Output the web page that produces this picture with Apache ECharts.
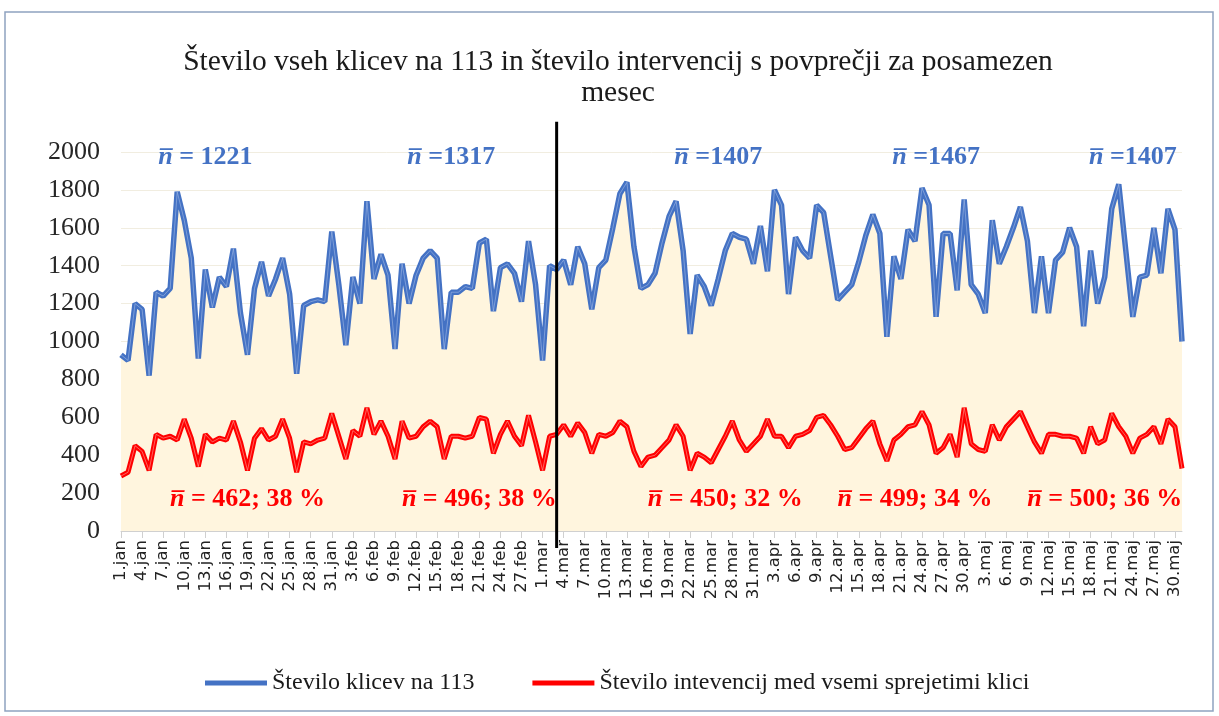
<!DOCTYPE html>
<html>
<head>
<meta charset="utf-8">
<script src="https://cdn.jsdelivr.net/npm/echarts@6/dist/echarts.min.js"></script>
<style>
  html, body { margin: 0; padding: 0; background: #fff; }
  #chart { width: 1219px; height: 716px; }
</style>
</head>
<body>
<div id="chart"></div>
<script>
// months of 2020 (leap year), daily values from 1.jan to 31.maj
var months = ['jan', 'feb', 'mar', 'apr', 'maj'];
var monthDays = [31, 29, 31, 30, 31];

// Število klicev na 113 (daily)
var calls = [
  930, 900, 1200, 1170, 820, 1260, 1240, 1280, 1790, 1640, 1440, 910, 1380, 1180, 1340, 1290,
  1490, 1150, 930, 1280, 1420, 1240, 1330, 1440, 1250, 830, 1190, 1210, 1220, 1210, 1580,
  1300, 980, 1340, 1200, 1740, 1330, 1460, 1350, 960, 1410, 1200, 1350, 1440, 1480, 1440,
  960, 1260, 1260, 1290, 1280, 1520, 1540, 1160, 1390, 1410, 1360, 1210, 1530, 1300,
  900, 1400, 1380, 1430, 1300, 1500, 1410, 1170, 1390, 1430, 1600, 1780, 1840, 1500, 1280,
  1300, 1360, 1520, 1660, 1740, 1480, 1040, 1350, 1290, 1190, 1330, 1480, 1570, 1550, 1540, 1410,
  1610, 1370, 1800, 1720, 1250, 1550, 1480, 1440, 1720, 1680, 1450, 1220, 1260, 1300, 1420,
  1560, 1670, 1570, 1025, 1450, 1330, 1590, 1530, 1810, 1720, 1130, 1570, 1570, 1270, 1750,
  1300, 1250, 1150, 1640, 1410, 1500, 1600, 1710, 1530, 1150, 1450, 1150, 1430, 1470, 1600, 1500,
  1080, 1480, 1200, 1340, 1700, 1830, 1480, 1130, 1340, 1350, 1600, 1360, 1700, 1590, 1000
];

// Število intervencij med vsemi sprejetimi klici (daily)
var interventions = [
  290, 310, 450, 420, 320, 510, 490, 500, 480, 590, 490, 340, 510, 470, 490, 480,
  580, 470, 320, 490, 540, 480, 500, 590, 490, 310, 470, 460, 480, 490, 620,
  500, 380, 530, 500, 650, 510, 580, 500, 380, 580, 490, 500, 550, 580, 550,
  380, 500, 500, 490, 500, 600, 590, 410, 510, 580, 500, 450, 610, 470,
  320, 500, 510, 560, 500, 570, 520, 410, 510, 500, 520, 580, 550, 420, 340,
  390, 400, 440, 480, 560, 500, 320, 410, 390, 360, 430, 500, 580, 480, 420, 460,
  500, 590, 500, 500, 440, 500, 510, 530, 600, 610, 560, 500, 430, 440, 490,
  540, 580, 460, 370, 480, 510, 550, 560, 630, 560, 410, 440, 510, 390, 650,
  460, 430, 420, 560, 480, 550, 590, 630, 550, 470, 410, 510, 510, 500, 500, 490,
  410, 550, 460, 480, 620, 550, 500, 410, 490, 510, 550, 460, 590, 550, 330
];

// monthly means written on the chart
var callMeans = [
  { day: '13.jan', text: ' = 1221' },
  { day: '17.feb', text: ' =1317' },
  { day: '26.mar', text: ' =1407' },
  { day: '26.apr', text: ' =1467' },
  { day: '24.maj', text: ' =1407' }
];
var interventionMeans = [
  { day: '19.jan', text: ' = 462; 38 %' },
  { day: '21.feb', text: ' = 496; 38 %' },
  { day: '27.mar', text: ' = 450; 32 %' },
  { day: '23.apr', text: ' = 499; 34 %' },
  { day: '20.maj', text: ' = 500; 36 %' }
];
var splitDay = '3.mar';

var days = [];
months.forEach(function (m, k) {
  for (var d = 1; d <= monthDays[k]; d++) days.push(d + '.' + m);
});

var serif = '"Liberation Serif", "DejaVu Serif", serif';
var blue = '#4472C4';
var red = '#FF0000';

function meanPoints (list, value) {
  return list.map(function (m) {
    return {
      coord: [m.day, value],
      label: { formatter: '{n|n\u0305}{t|' + m.text + '}' }
    };
  });
}

var chart = echarts.init(document.getElementById('chart'));
chart.setOption({
  animation: false,
  title: {
    text: 'Število vseh klicev na 113 in število intervencij s povprečji za posamezen\nmesec',
    left: 613,
    textAlign: 'center',
    top: 42,
    textStyle: { fontFamily: serif, fontSize: 29.5, fontWeight: 'normal', color: '#1a1a1a', lineHeight: 31 }
  },
  legend: {
    bottom: 16,
    left: 200,
    icon: 'rect',
    itemWidth: 62,
    itemHeight: 5,
    itemGap: 58,
    data: ['Število klicev na 113', 'Število intevencij med vsemi sprejetimi klici'],
    textStyle: { fontFamily: serif, fontSize: 24, color: '#1a1a1a' }
  },
  grid: { left: 121, right: 37, top: 152, bottom: 185 },
  xAxis: {
    type: 'category',
    data: days,
    boundaryGap: false,
    axisLine: { lineStyle: { color: '#d0d0d0' } },
    axisTick: { interval: 2, length: 7, lineStyle: { color: '#d0d0d0' } },
    axisLabel: {
      interval: 2, rotate: 90, margin: 9,
      fontFamily: '"DejaVu Sans", sans-serif', fontSize: 16.5, color: '#222'
    },
    splitLine: { show: false }
  },
  yAxis: {
    type: 'value',
    min: 0, max: 2000, interval: 200,
    axisLabel: {
      margin: 21, fontFamily: serif, fontSize: 26, color: '#262626',
      formatter: function (v) { return String(v); }
    },
    axisLine: { show: false },
    axisTick: { show: false },
    splitLine: { lineStyle: { color: '#f1ede0' } }
  },
  series: [
    {
      name: 'Število klicev na 113',
      type: 'line',
      data: calls,
      symbol: 'none',
      color: blue,
      lineStyle: { width: 5.5, color: blue },
      areaStyle: { color: '#FFF5DE', opacity: 1 },
      z: 2,
      markPoint: {
        symbol: 'circle', symbolSize: 0,
        label: {
          show: true, position: 'inside',
          rich: {
            n: { fontFamily: serif, fontSize: 26, fontWeight: 'bold', fontStyle: 'italic', color: blue },
            t: { fontFamily: serif, fontSize: 26, fontWeight: 'bold', color: blue }
          }
        },
        data: meanPoints(callMeans, 1974)
      }
    },
    {
      name: 'calls-hl',
      type: 'line',
      data: calls,
      symbol: 'none',
      silent: true,
      lineStyle: { width: 1, color: 'rgba(170,192,232,0.55)' },
      z: 3
    },
    {
      name: 'Število intevencij med vsemi sprejetimi klici',
      type: 'line',
      data: interventions,
      symbol: 'none',
      color: red,
      lineStyle: { width: 5, color: red },
      z: 4,
      markPoint: {
        symbol: 'circle', symbolSize: 0,
        label: {
          show: true, position: 'inside',
          rich: {
            n: { fontFamily: serif, fontSize: 26, fontWeight: 'bold', fontStyle: 'italic', color: red },
            t: { fontFamily: serif, fontSize: 26, fontWeight: 'bold', color: red }
          }
        },
        data: meanPoints(interventionMeans, 169)
      }
    },
    {
      name: 'interventions-hl',
      type: 'line',
      data: interventions,
      symbol: 'none',
      silent: true,
      lineStyle: { width: 1, color: 'rgba(255,160,150,0.6)' },
      z: 5
    }
  ]
});

// black divider between the periods, a bit longer than the plot area
var splitIndex = days.indexOf(splitDay);
var lineTop = chart.convertToPixel({ seriesIndex: 0 }, [splitIndex, 2160]);
var lineBottom = chart.convertToPixel({ seriesIndex: 0 }, [splitIndex, -90]);
chart.setOption({
  graphic: [
    {
      type: 'line', z: 50,
      shape: { x1: lineTop[0], y1: lineTop[1], x2: lineBottom[0], y2: lineBottom[1] },
      style: { stroke: '#000', lineWidth: 3 }
    },
    {
      type: 'rect', z: -1,
      shape: { x: 5, y: 12, width: 1208, height: 699 },
      style: { fill: 'none', stroke: '#8FA2C0', lineWidth: 1.5 }
    }
  ]
});
</script>
</body>
</html>
